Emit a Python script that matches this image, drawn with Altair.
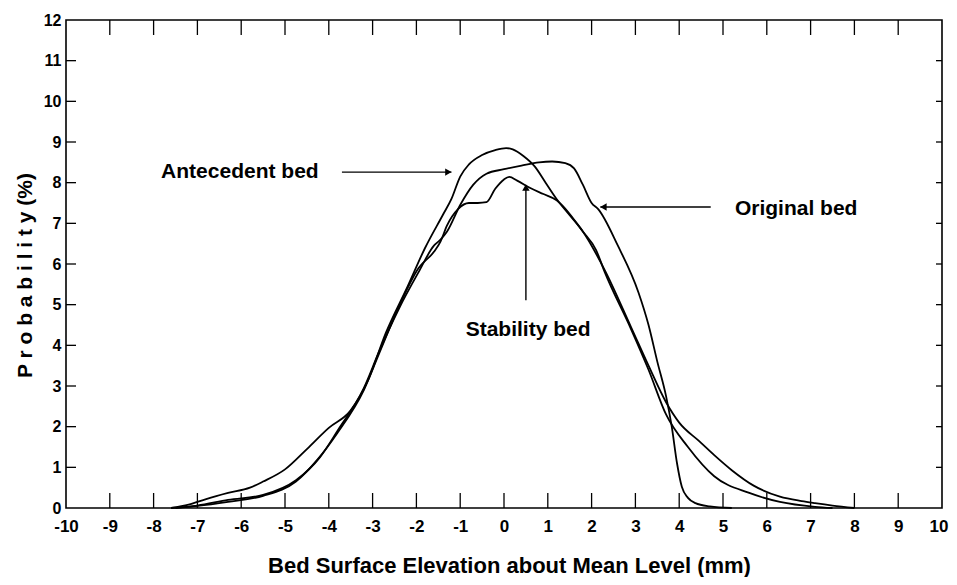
import altair as alt
import pandas as pd

# ---- data ----
ante_x = [-7.6, -7.2, -6.8, -6.3, -5.8, -5.5, -5.0, -4.5, -4.0, -3.5, -3.1, -2.7, -2.2, -1.8, -1.4,
          -1.2, -1.0, -0.8, -0.5, -0.2, 0.05, 0.2, 0.45, 0.7, 0.95, 1.2, 1.5, 1.8, 2.3, 2.9, 3.3,
          3.7, 4.0, 4.45, 4.8, 5.2, 5.7, 6.3, 6.8, 7.1, 7.5, 8.0]
ante_y = [0.0, 0.08, 0.22, 0.37, 0.5, 0.65, 0.95, 1.45, 1.97, 2.4, 3.15, 4.3, 5.45, 6.4, 7.2,
          7.6, 8.15, 8.45, 8.68, 8.8, 8.85, 8.82, 8.65, 8.4, 8.0, 7.6, 7.2, 6.8, 5.85, 4.45, 3.5,
          2.6, 2.1, 1.65, 1.3, 0.93, 0.55, 0.28, 0.17, 0.12, 0.06, 0.0]

stab_x = [-7.6, -7.0, -6.3, -5.5, -4.75, -4.25, -3.8, -3.2, -2.85, -2.4, -1.95, -1.6, -1.45, -1.3,
          -1.05, -0.8, -0.6, -0.4, -0.2, 0.0, 0.12, 0.3, 0.6, 0.9, 1.2, 1.8, 2.1, 2.3, 2.9, 3.3,
          3.7, 4.2, 4.8, 5.6, 6.3, 7.1, 7.5]
stab_y = [0.0, 0.05, 0.15, 0.3, 0.65, 1.2, 1.85, 2.9, 3.8, 4.95, 5.9, 6.3, 6.55, 6.95,
          7.35, 7.5, 7.5, 7.52, 7.85, 8.08, 8.14, 8.05, 7.87, 7.72, 7.57, 6.8, 6.35, 5.8, 4.4, 3.4,
          2.3, 1.5, 0.78, 0.37, 0.15, 0.03, 0.0]

orig_x = [-7.5, -7.0, -6.3, -5.5, -4.75, -4.2, -3.8, -3.2, -2.85, -2.4, -1.95, -1.6, -1.45, -1.3,
          -1.0, -0.7, -0.4, 0.0, 0.4, 0.8, 1.1, 1.4, 1.6, 1.8, 2.0, 2.15, 2.6, 3.07, 3.3, 3.5,
          3.7, 3.83, 3.95, 4.06, 4.2, 4.37, 4.7, 5.2]
orig_y = [0.0, 0.06, 0.2, 0.32, 0.68, 1.25, 1.9, 2.95, 3.85, 4.9, 5.8, 6.45, 6.6, 6.8,
          7.45, 7.95, 8.22, 8.33, 8.42, 8.5, 8.52, 8.48, 8.35, 7.95, 7.5, 7.35, 6.45, 5.3, 4.5, 3.6,
          2.75, 2.0, 1.1, 0.52, 0.25, 0.12, 0.04, 0.0]

x_tick_labels = list(range(-10, 11))
y_tick_labels = list(range(0, 13))
x_inner_ticks = list(range(-9, 10))
y_inner_ticks = list(range(1, 12))

# annotation text and anchor (data units)
ann_text = ["Antecedent bed", "Original bed", "Stability bed"]
ann_x = [-6.03, 6.67, 0.55]
ann_y = [8.26, 7.36, 4.38]

W, H = 876, 488

rows = []
for name, xs, ys in [("Antecedent bed", ante_x, ante_y),
                     ("Stability bed", stab_x, stab_y),
                     ("Original bed", orig_x, orig_y)]:
    for xv, yv in zip(xs, ys):
        rows.append({"series": name, "x": xv, "y": yv})
df = pd.DataFrame(rows)

xscale = alt.Scale(domain=[-10, 10], nice=False, zero=False)
yscale = alt.Scale(domain=[0, 12], nice=False, zero=False)

BOLD = "Liberation Sans, Arial, Helvetica, sans-serif"

x_axis = alt.Axis(values=x_tick_labels, ticks=False, domain=False, grid=False,
                  labelOverlap=False, labelFlush=False, labelExpr="'' + datum.value",
                  labelAlign={"condition": {"test": "datum.value == 10", "value": "right"}, "value": "center"},
                  labelOffset={"condition": {"test": "datum.value == 10", "value": 6}, "value": 0},
                  labelFont=BOLD, labelFontSize=17, labelFontWeight="bold", labelColor="black",
                  labelPadding=10,
                  title="Bed Surface Elevation about Mean Level (mm)",
                  titleFont=BOLD, titleFontSize=22, titleFontWeight="bold", titleColor="black",
                  titleBaseline="middle", titleY=57, titleX=443)
y_axis = alt.Axis(values=y_tick_labels, ticks=False, domain=False, grid=False,
                  labelOverlap=False, labelFlush=False,
                  labelFont=BOLD, labelFontSize=16, labelFontWeight="bold", labelColor="black",
                  labelPadding=5,
                  title="P r o b a b i l i t y  (%)",
                  titleFont=BOLD, titleFontSize=21, titleFontWeight="bold", titleColor="black",
                  titleBaseline="middle", titleX=-41, titleY=255, titleAngle=-90)

lines = alt.Chart(df).mark_line(color="black", strokeWidth=1.8, interpolate="monotone").encode(
    x=alt.X("x:Q", scale=xscale, axis=x_axis),
    y=alt.Y("y:Q", scale=yscale, axis=y_axis),
    detail="series:N",
)

xt = pd.DataFrame({"t": x_inner_ticks})
yt = pd.DataFrame({"t": y_inner_ticks})

bottom_ticks = alt.Chart(xt).mark_rule(color="black", strokeWidth=1.3).encode(
    x=alt.X("t:Q", scale=xscale), y=alt.value(H), y2=alt.value(H - 15))
top_ticks = alt.Chart(xt).mark_rule(color="black", strokeWidth=1.3).encode(
    x=alt.X("t:Q", scale=xscale), y=alt.value(0), y2=alt.value(15))
left_ticks = alt.Chart(yt).mark_rule(color="black", strokeWidth=1.3).encode(
    y=alt.Y("t:Q", scale=yscale), x=alt.value(0), x2=alt.value(10))
right_ticks = alt.Chart(yt).mark_rule(color="black", strokeWidth=1.3).encode(
    y=alt.Y("t:Q", scale=yscale), x=alt.value(W), x2=alt.value(W - 6))

ann = pd.DataFrame({"label": ann_text, "x": ann_x, "y": ann_y})
texts = alt.Chart(ann).mark_text(font=BOLD, fontSize=21, fontWeight="bold", color="black",
                                 align="center", baseline="middle").encode(
    x=alt.X("x:Q", scale=xscale), y=alt.Y("y:Q", scale=yscale), text="label:N")

# arrows: shafts (start/end in data units) and heads
arrow_x1 = [-3.7, 4.72, 0.5]
arrow_x2 = [-1.2, 2.2, 0.5]
arrow_y1 = [8.26, 7.4, 5.11]
arrow_y2 = [8.26, 7.4, 7.85]
arrow_shape = ["triangle-right", "triangle-left", "triangle-up"]
head_x = [-1.27, 2.27, 0.5]
head_y = [8.26, 7.4, 7.88]

arr = pd.DataFrame({"x1": arrow_x1, "x2": arrow_x2, "y1": arrow_y1, "y2": arrow_y2})
shafts = alt.Chart(arr).mark_rule(color="black", strokeWidth=1.4).encode(
    x=alt.X("x1:Q", scale=xscale), x2="x2:Q",
    y=alt.Y("y1:Q", scale=yscale), y2="y2:Q")

heads_df = pd.DataFrame({"x": head_x, "y": head_y, "shape": arrow_shape})
heads = alt.Chart(heads_df).mark_point(filled=True, color="black", opacity=1, size=55).encode(
    x=alt.X("x:Q", scale=xscale), y=alt.Y("y:Q", scale=yscale),
    shape=alt.Shape("shape:N", scale=None, legend=None))

chart = alt.layer(lines, bottom_ticks, top_ticks, left_ticks, right_ticks, shafts, heads, texts).properties(
    width=W, height=H,
    autosize=alt.AutoSizeParams(type="none"),
    padding={"left": 58, "top": 12, "right": 7, "bottom": 69},
    background="white",
).configure_view(stroke="black", strokeWidth=1.6)

chart.save("out.html", embed_options={"renderer": "svg", "actions": False})
